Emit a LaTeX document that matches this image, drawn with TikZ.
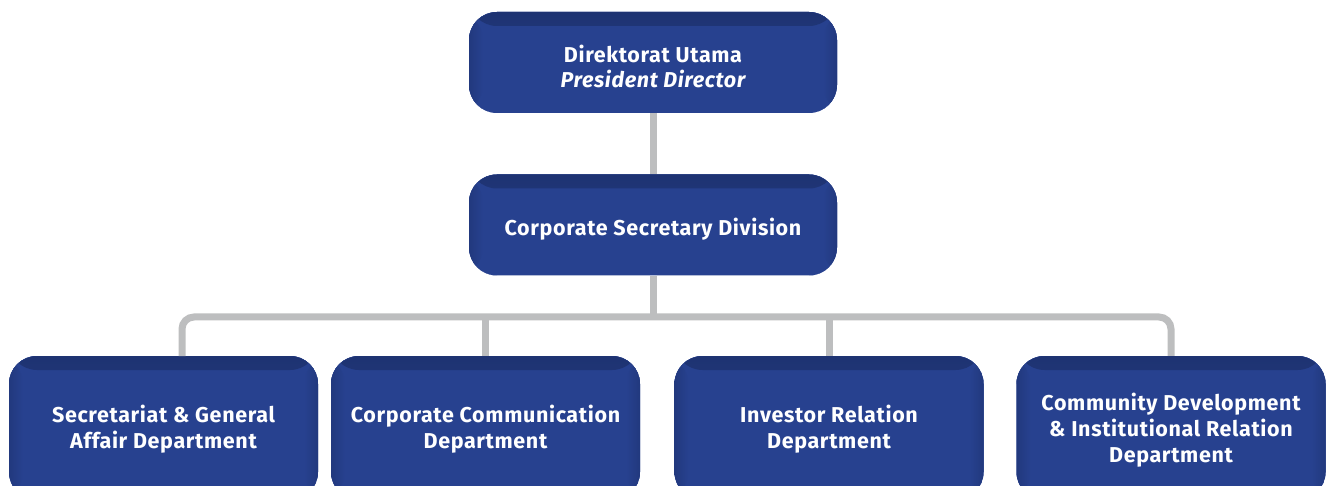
\documentclass[tikz,border=0pt]{standalone}
\usepackage{fontspec}
\setmainfont{Fira Sans}[LetterSpace=3.0]
\definecolor{boxblue}{HTML}{27418F}
\definecolor{boxdark}{HTML}{1E3372}
\definecolor{conngray}{HTML}{BDBEBF}
\tikzset{
  orgbox/.style={rounded corners=28pt, fill=boxblue, inner sep=0pt,
    path picture={
      \fill[top color=boxdark, bottom color=boxblue]
        (path picture bounding box.north west) rectangle
        ([yshift=-14pt]path picture bounding box.north east);
      \fill[left color=boxdark!60!boxblue, right color=boxblue]
        (path picture bounding box.north west) rectangle
        ([xshift=14pt]path picture bounding box.south west);
      \fill[right color=boxdark!60!boxblue, left color=boxblue]
        (path picture bounding box.north east) rectangle
        ([xshift=-14pt]path picture bounding box.south east);
    }},
  topbox/.style={orgbox, minimum width=368pt, minimum height=101pt},
  deptbox/.style={orgbox, minimum width=309pt, minimum height=144pt},
  lbl/.style={text=white, align=center, inner sep=0pt,
    font=\fontsize{21.5}{25.8}\selectfont\bfseries},
  conn/.style={draw=conngray, line width=7pt}
}
\begin{document}
\begin{tikzpicture}[x=1pt,y=-1pt]
\useasboundingbox (0,0) rectangle (1328,486);
\clip (0,0) rectangle (1328,486);
\coordinate (bar) at (653,317);
\coordinate (c1) at (182,356);
% boxes
\node[topbox] (top) at (653,62.5) {};
\node[topbox] (mid) at (653,225) {};
\node[deptbox] (b1) at (163.5,428) {};
\node[deptbox] (b2) at (485.5,428) {};
\node[deptbox] (b3) at (829,428) {};
\node[deptbox] (b4) at (1171,428) {};
% labels
\node[lbl] (ttop) at ([yshift=-4pt]top.center) {Direktorat Utama\\\itshape President Director};
\node[lbl] (tmid) at ([yshift=-4.5pt]mid.center) {Corporate Secretary Division};
\node[lbl] (t1) at ([yshift=-1.5pt]b1.center) {Secretariat \& General\\Affair Department};
\node[lbl] (t2) at ([yshift=-1.5pt]b2.center) {Corporate Communication\\Department};
\node[lbl] (t3) at ([yshift=-1.5pt]b3.center) {Investor Relation\\Department};
\node[lbl] (t4) at ([yshift=-2pt]b4.center) {Community Development\\\& Institutional Relation\\Department};
% connectors
\draw[conn] (top.south) -- (mid.north);
\draw[conn] (mid.south) -- (mid.south |- bar);
\draw[conn, rounded corners=12pt] (c1) |- (bar) -| (b4.north);
\draw[conn] (b2.north) -- (b2.north |- bar);
\draw[conn] (b3.north) -- (b3.north |- bar);
\end{tikzpicture}
\end{document}
